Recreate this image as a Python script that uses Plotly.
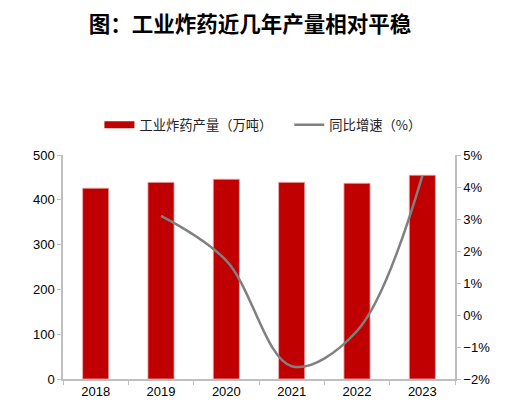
import plotly.graph_objects as go

years = ["2018", "2019", "2020", "2021", "2022", "2023"]
production = [426, 439, 446, 439, 437, 455]
growth_years = ["2019", "2020", "2021", "2022", "2023"]
growth = [3.1, 1.7, -1.6, -0.5, 4.35]

font_family = "Liberation Sans, Arial, Noto Sans CJK SC"
RED = "#C00000"
GREY = "#808080"

fig = go.Figure()
fig.add_trace(go.Bar(
    x=years, y=production, name="工业炸药产量（万吨）",
    marker=dict(color=RED, line=dict(color="#E8B0B0", width=0.8)),
    width=0.4, yaxis="y", showlegend=False,
))
# legend entry drawn as a wide red band, like the reference
fig.add_trace(go.Scatter(
    x=[None], y=[None], name="工业炸药产量（万吨）    ", mode="lines",
    line=dict(color=RED, width=7), yaxis="y", showlegend=True,
))
fig.add_trace(go.Scatter(
    x=growth_years, y=growth, name="同比增速（%）",
    mode="lines", line=dict(color=GREY, width=2.5, shape="spline", smoothing=1.0),
    yaxis="y2",
))

fig.update_layout(
    width=504, height=402,
    margin=dict(l=55, r=57, t=147, b=31),
    paper_bgcolor="white", plot_bgcolor="white",
    font=dict(family=font_family, size=13, color="#000000"),
    title=dict(text="<b>图：工业炸药近几年产量相对平稳</b>", x=0.48, xanchor="center",
               y=0.959, yanchor="middle",
               font=dict(family="Noto Sans CJK SC", size=21.5, color="#000000")),
    showlegend=True,
    legend=dict(orientation="h", x=0.51, xanchor="center", y=1.134, yanchor="middle",
                font=dict(family="Noto Sans CJK SC, Liberation Sans", size=13.3, color="#222222"),
                itemwidth=30, traceorder="normal"),
    xaxis=dict(type="category", showline=True, linecolor="#BFBFBF", linewidth=1.5,
               ticks="outside", tickson="boundaries", ticklen=4, tickcolor="#BFBFBF",
               showgrid=False, tickfont=dict(size=13)),
    yaxis=dict(range=[0, 500], dtick=100, showline=True, linecolor="#BFBFBF", linewidth=1.5,
               ticks="outside", ticklen=4, tickcolor="#BFBFBF", showgrid=False, zeroline=False,
               tickfont=dict(size=13)),
    yaxis2=dict(range=[-2, 5], dtick=1, ticksuffix="%", overlaying="y", side="right",
                showline=True, linecolor="#BFBFBF", linewidth=1.5,
                ticks="outside", ticklen=4, tickcolor="#BFBFBF", showgrid=False, zeroline=False,
                tickfont=dict(size=13)),
)

fig.write_html("out.html")
